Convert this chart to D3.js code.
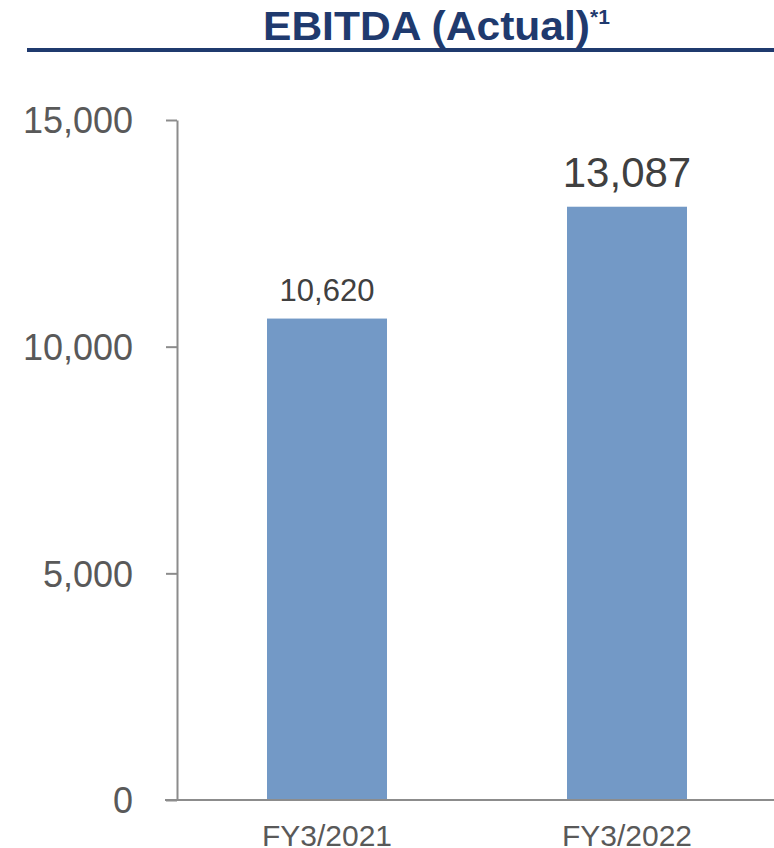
<!DOCTYPE html>
<html>
<head>
<meta charset="utf-8">
<script src="https://cdn.jsdelivr.net/npm/d3@7"></script>
<style>
  body { margin: 0; background: #fff; }
  svg { display: block; font-family: "Liberation Sans", Arial, sans-serif; }
</style>
</head>
<body>
<div id="chart"></div>
<script>
// chart data
const categories = ["FY3/2021", "FY3/2022"];
const values = [10620, 13087];
const yTicks = [0, 5000, 10000, 15000];
const labelSizes = [31, 42]; // the second value label is shown larger

const width = 774, height = 848;
const margin = { top: 120, right: -3, bottom: 50, left: 177 };

const svg = d3.select("#chart").append("svg")
    .attr("width", width)
    .attr("height", height);

// title with superscript
const title = svg.append("text")
    .attr("x", 263)
    .attr("y", 40)
    .attr("fill", "#1f3a6e")
    .style("font-weight", "bold")
    .style("font-size", "40px");
title.append("tspan")
    .attr("textLength", 327)
    .attr("lengthAdjust", "spacingAndGlyphs")
    .text("EBITDA (Actual)");
title.append("tspan")
    .attr("dy", -16)
    .style("font-size", "21px")
    .text("*1");

svg.append("line")
    .attr("x1", 27).attr("x2", width)
    .attr("y1", 50).attr("y2", 50)
    .attr("stroke", "#1f3a6e")
    .attr("stroke-width", 4);

const innerWidth = width - margin.left - margin.right;
const innerHeight = height - margin.top - margin.bottom;

const chart = svg.append("g")
    .attr("transform", `translate(${margin.left}, ${margin.top})`);

const xScale = d3.scaleBand()
    .domain(categories)
    .range([0, 600])
    .paddingInner(0.6)
    .paddingOuter(0.3);

const yScale = d3.scaleLinear()
    .domain([0, 15000])
    .range([innerHeight + 2, 0]);

// bars
chart.selectAll(".bar")
    .data(values)
    .enter().append("rect")
    .attr("class", "bar")
    .attr("x", (d, i) => xScale(categories[i]))
    .attr("width", xScale.bandwidth())
    .attr("y", d => yScale(d))
    .attr("height", d => yScale(0) - yScale(d))
    .attr("fill", "#7399c6");

// y axis
const yAxis = chart.append("g")
    .attr("class", "y-axis")
    .call(d3.axisLeft(yScale)
        .tickValues(yTicks)
        .tickFormat(d3.format(","))
        .tickSize(11)
        .tickSizeOuter(0)
        .tickPadding(33));
yAxis.select(".domain").attr("stroke", "#8c8c8c").attr("stroke-width", 2);
yAxis.selectAll(".tick line").attr("stroke", "#8c8c8c").attr("stroke-width", 2);
yAxis.selectAll(".tick text")
    .attr("fill", "#595959")
    .attr("dy", "0.36em")
    .style("font-family", "'Liberation Sans', Arial, sans-serif")
    .style("font-size", "36px");

// x axis baseline
chart.append("line")
    .attr("x1", -12).attr("x2", innerWidth)
    .attr("y1", yScale(0)).attr("y2", yScale(0))
    .attr("stroke", "#8c8c8c")
    .attr("stroke-width", 2);

// category labels
chart.selectAll(".x-label")
    .data(categories)
    .enter().append("text")
    .attr("class", "x-label")
    .attr("text-anchor", "middle")
    .attr("x", d => xScale(d) + xScale.bandwidth() / 2)
    .attr("y", yScale(0) + 46)
    .attr("fill", "#595959")
    .style("font-size", "30px")
    .text(d => d);

// value labels
chart.selectAll(".value")
    .data(values)
    .enter().append("text")
    .attr("class", "value")
    .attr("text-anchor", "middle")
    .attr("x", (d, i) => xScale(categories[i]) + xScale.bandwidth() / 2)
    .attr("y", (d, i) => yScale(d) - (i === 0 ? 18 : 20))
    .attr("fill", "#404040")
    .style("font-size", (d, i) => labelSizes[i] + "px")
    .text(d => d3.format(",")(d));
</script>
</body>
</html>
